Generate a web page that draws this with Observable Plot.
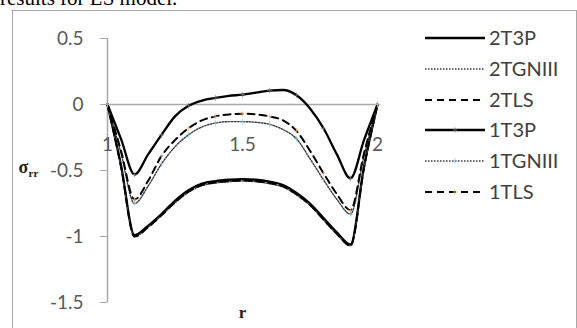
<!DOCTYPE html>
<html><head><meta charset="utf-8">
<script src="https://cdn.jsdelivr.net/npm/d3@7"></script>
<script src="https://cdn.jsdelivr.net/npm/@observablehq/plot@0.6"></script>
<style>
body{margin:0;background:#fff;}
#wrap{position:relative;width:577px;height:328px;overflow:hidden;background:#fff;}
#top{position:absolute;left:0;top:-14px;font:21px "Liberation Serif",serif;color:#000;white-space:nowrap;}
#frame{position:absolute;left:12px;top:10px;width:565px;height:340px;border:1.5px solid #a8a8a8;box-sizing:border-box;}
#chart{position:absolute;left:0;top:0;}
#legend{position:absolute;left:0;top:0;}
</style>
</head><body>
<div id="wrap">
  <div id="top">results for LS model.</div>
  <div id="frame"></div>
  <div id="chart"></div>
  <svg id="legend" width="577" height="328"></svg>
</div>
<script>
// ---- data ----
const r = [1.00,1.05,1.10,1.15,1.20,1.25,1.30,1.35,1.40,1.45,1.50,1.55,1.60,1.65,1.70,1.75,1.80,1.85,1.90,1.95,2.00];
const s2T3P   = [0,-0.46,-0.99,-0.92,-0.83,-0.73,-0.65,-0.60,-0.58,-0.57,-0.565,-0.57,-0.585,-0.61,-0.67,-0.75,-0.86,-0.97,-1.06,-0.47,0];
const s2TGNIII= [0,-0.47,-1.00,-0.93,-0.84,-0.745,-0.665,-0.615,-0.595,-0.585,-0.58,-0.585,-0.60,-0.625,-0.685,-0.765,-0.875,-0.985,-1.07,-0.48,0];
const s2TLS   = [0,-0.47,-1.00,-0.93,-0.84,-0.74,-0.66,-0.61,-0.59,-0.58,-0.575,-0.58,-0.595,-0.62,-0.68,-0.76,-0.87,-0.98,-1.07,-0.48,0];
const s1T3P   = [0,-0.26,-0.53,-0.38,-0.23,-0.09,-0.01,0.03,0.05,0.065,0.075,0.09,0.105,0.11,0.07,-0.03,-0.18,-0.38,-0.56,-0.27,0];
const s1TGNIII= [0,-0.37,-0.75,-0.62,-0.45,-0.32,-0.23,-0.17,-0.14,-0.13,-0.13,-0.135,-0.15,-0.19,-0.26,-0.41,-0.57,-0.72,-0.83,-0.39,0];
const s1TLS   = [0,-0.35,-0.72,-0.58,-0.39,-0.27,-0.18,-0.12,-0.09,-0.075,-0.07,-0.075,-0.09,-0.12,-0.20,-0.35,-0.52,-0.68,-0.80,-0.37,0];
const seriesNames = ["2T3P","2TGNIII","2TLS","1T3P","1TGNIII","1TLS"];
const seriesValues = [s2T3P, s2TGNIII, s2TLS, s1T3P, s1TGNIII, s1TLS];
const xTicks = [1, 1.5, 2];
const xTickLabels = ["1", "1.5", "2"];
const yTicks = [0.5, 0, -0.5, -1, -1.5];
const yTickLabels = ["0.5", "0", "-0.5", "-1", "-1.5"];

// ---- styles ----
const styles = {
  "2T3P":   {stroke:"#000", strokeWidth:2.3, dash:null},
  "2TGNIII":{stroke:"#3a3a4a", strokeWidth:1.4, dash:"1.5 1.5"},
  "2TLS":   {stroke:"#000", strokeWidth:2.0, dash:"7 5"},
  "1T3P":   {stroke:"#000", strokeWidth:2.3, dash:null, marker:"#777"},
  "1TGNIII":{stroke:"#3a3a4a", strokeWidth:1.4, dash:"1.5 1.5", marker:"#7cc0c8"},
  "1TLS":   {stroke:"#000", strokeWidth:2.0, dash:"7 5", marker:"#f2b27a"}
};

const rows = [];
seriesNames.forEach((name, k) => r.forEach((x, i) => rows.push({series:name, i, r:x, v:seriesValues[k][i]})));

const font = "Lato, 'Open Sans', sans-serif";
const marks = [
  Plot.ruleY([0], {stroke:"#a8a8a8", strokeWidth:1.5}),
  Plot.ruleX([1], {stroke:"#a8a8a8", strokeWidth:1.5}),
  Plot.axisY({ticks:yTicks, tickFormat:(d)=>yTickLabels[yTicks.indexOf(d)], tickSize:7, tickPadding:17,
              stroke:"#a8a8a8", fill:"#595959", fontSize:19, label:null}),
  Plot.text(xTicks, {x:d=>d, y:0, dy:40, text:(d)=>xTickLabels[xTicks.indexOf(d)], fill:"#595959", fontSize:19}),
  Plot.text(["r"], {frameAnchor:"bottom", dy:15, fill:"#222", fontSize:17, fontWeight:"bold", fontFamily:"'Liberation Serif', serif"}),
  Plot.text(["σ"], {frameAnchor:"left", dx:-89, dy:-3, textAnchor:"start", fill:"#222", fontSize:18, fontWeight:"bold", fontFamily:"'Liberation Serif', serif"}),
  Plot.text(["rr"], {frameAnchor:"left", dx:-79, dy:3, textAnchor:"start", fill:"#222", fontSize:11, fontWeight:"bold", fontFamily:"'Liberation Serif', serif"})
];
seriesNames.forEach(name => {
  const st = styles[name];
  marks.push(Plot.line(rows.filter(d => d.series === name), {
    x:"r", y:"v", curve:"monotone-x", stroke:st.stroke, strokeWidth:st.strokeWidth,
    strokeDasharray:st.dash || undefined, strokeLinejoin:"round"
  }));
});
["1T3P","1TGNIII","1TLS"].forEach(name => {
  const st = styles[name];
  marks.push(Plot.dot(rows.filter(d => d.series === name && d.i % 2 === 0), {
    x:"r", y:"v", symbol:"plus", r:2, stroke:st.marker, strokeWidth:1, strokeOpacity:0.6
  }));
});

const chart = Plot.plot({
  width:577, height:328,
  marginLeft:107, marginRight:200, marginTop:38, marginBottom:26,
  x:{domain:[1,2], axis:null},
  y:{domain:[-1.5,0.5], axis:null},
  style:{fontFamily:font, background:"transparent", overflow:"visible"},
  marks
});
document.getElementById("chart").appendChild(chart);

// ---- legend ----
const leg = d3.select("#legend");
const legY = [38, 69, 100, 130, 161, 192];
seriesNames.forEach((name, k) => {
  const st = styles[name];
  const y = legY[k];
  leg.append("line").attr("x1",425).attr("x2",485).attr("y1",y).attr("y2",y)
    .attr("stroke",st.stroke).attr("stroke-width",st.strokeWidth)
    .attr("stroke-dasharray",st.dash);
  if (st.marker) {
    leg.append("path").attr("d",`M${455-2.5},${y}h5M455,${y-2.5}v5`).attr("stroke",st.marker).attr("stroke-width",1.2).attr("stroke-opacity",0.7);
  }
  leg.append("text").attr("x",489).attr("y",y).attr("dy","0.36em")
    .attr("font-family",font).attr("font-size",20).attr("fill","#404040").text(name);
});
</script>
</body></html>
